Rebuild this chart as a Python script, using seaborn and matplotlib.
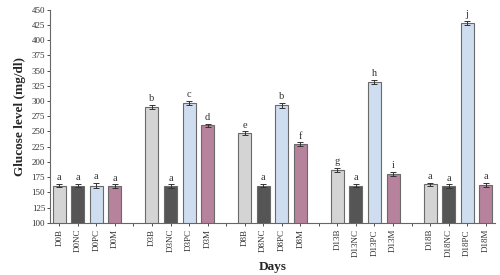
import matplotlib
matplotlib.use("Agg")
import matplotlib.pyplot as plt
import seaborn as sns
import pandas as pd
import numpy as np

days = ["D0", "D3", "D8", "D13", "D18"]
groups = ["B", "NC", "PC", "M"]
values = [
    [161, 161, 161, 160],
    [290, 160, 297, 260],
    [247, 161, 293, 229],
    [187, 161, 331, 180],
    [163, 160, 428, 162],
]
errors = [
    [3, 3, 4, 3],
    [4, 3, 3, 2],
    [3, 3, 4, 3],
    [3, 3, 3, 3],
    [3, 3, 3, 4],
]
letters = [
    ["a", "a", "a", "a"],
    ["b", "a", "c", "d"],
    ["e", "a", "b", "f"],
    ["g", "a", "h", "i"],
    ["a", "a", "j", "a"],
]
group_colors = {"B": "#d4d4d4", "NC": "#555555", "PC": "#c8dcf4", "M": "#c07a9c"}

labels, vals, errs, lets, cols = [], [], [], [], []
for i, d in enumerate(days):
    for j, g in enumerate(groups):
        labels.append(d + g)
        vals.append(values[i][j])
        errs.append(errors[i][j])
        lets.append(letters[i][j])
        cols.append(group_colors[g])
    if i < len(days) - 1:
        labels.append(" " * (i + 1))
        vals.append(np.nan)
        errs.append(np.nan)
        lets.append("")
        cols.append("#ffffff")

df = pd.DataFrame({"label": labels, "value": vals})

sns.set_style("ticks")
plt.rcParams["font.family"] = ["Liberation Serif", "DejaVu Serif"]

fig = plt.figure(figsize=(5, 2.75), dpi=100)
ax = fig.add_axes([0.1, 0.19, 0.89, 0.775])

sns.barplot(data=df, x="label", y="value", hue="label", palette=dict(zip(labels, cols)),
            order=labels, width=0.7, edgecolor="#6a6a6a", linewidth=0.8,
            legend=False, errorbar=None, ax=ax)

x = np.arange(len(labels))
v = np.array(vals, dtype=float)
e = np.array(errs, dtype=float)
ax.errorbar(x, v, yerr=e, fmt="none", ecolor="#333333", elinewidth=0.7, capsize=2, capthick=0.7)
for xi, vi, ei, li in zip(x, v, e, lets):
    if li:
        ax.text(xi, vi + ei + 3, li, ha="center", va="bottom", fontsize=7.5, color="#333333")

ax.set_xlim(-0.5, len(labels) - 0.5)
ax.set_ylim(100, 450)
ax.set_yticks(np.arange(100, 451, 25))
ax.tick_params(axis="y", labelsize=6.5, length=2.5, width=0.6, colors="#333333", pad=1)
ax.tick_params(axis="x", labelsize=6.5, length=2.5, width=0.6, colors="#333333", pad=2)
ax.set_xticks(x)
ax.set_xticklabels(labels, rotation=90)
sns.despine(ax=ax)
for s in ["left", "bottom"]:
    ax.spines[s].set_color("#666666")
    ax.spines[s].set_linewidth(0.8)

ax.set_ylabel("Glucose level (mg/dl)", fontsize=9.5, fontweight="bold", labelpad=4)
ax.set_xlabel("Days", fontsize=9.5, fontweight="bold", labelpad=3)

fig.savefig("out.png", dpi=100)
